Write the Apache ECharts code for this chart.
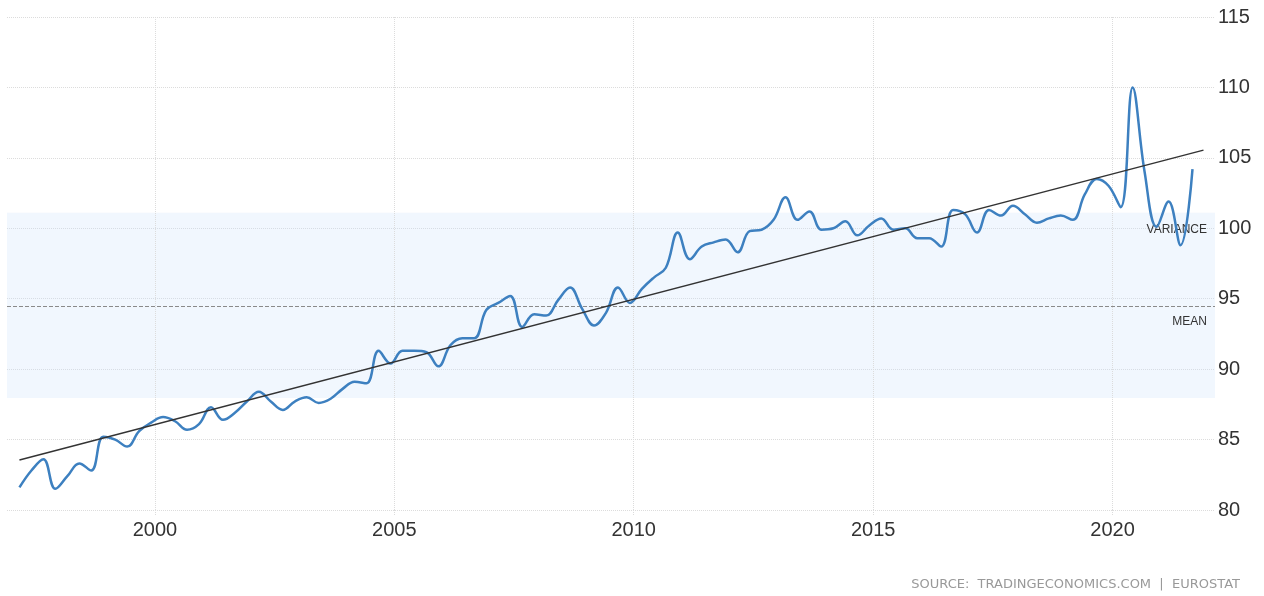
<!DOCTYPE html>
<html>
<head>
<meta charset="utf-8">
<title>Index</title>
<script src="https://cdn.jsdelivr.net/npm/echarts@6/dist/echarts.min.js"></script>
<style>
html, body { margin: 0; padding: 0; background: #fff; }
#main { width: 1264px; height: 596px; }
</style>
</head>
<body>
<div id="main"></div>
<script>
// quarterly values, 1997 Q1 .. 2021 Q3
var values = [
    81.6, 82.8, 83.6, 81.5, 82.4, 83.3, 82.8, 85.2, 85.0, 84.5,
    85.6, 86.2, 86.6, 86.3, 85.7, 86.1, 87.3, 86.4, 86.9, 87.7,
    88.4, 87.7, 87.1, 87.7, 88.0, 87.6, 87.9, 88.6, 89.1, 89.0,
    91.3, 90.4, 91.3, 91.3, 91.2, 90.2, 91.7, 92.2, 92.2, 94.2,
    94.7, 95.2, 93.0, 93.9, 93.8, 94.9, 95.8, 94.3, 93.1, 94.0,
    95.8, 94.7, 95.7, 96.5, 97.2, 99.7, 97.8, 98.7, 99.0, 99.2,
    98.3, 99.8, 99.9, 100.6, 102.2, 100.6, 101.2, 99.9, 100.0, 100.5,
    99.5, 100.2, 100.7, 99.9, 100.0, 99.3, 99.3, 98.7, 101.3, 101.0,
    99.7, 101.3, 100.9, 101.6, 101.0, 100.4, 100.7, 100.9, 100.6, 102.4,
    103.5, 103.0, 101.5, 110.0, 104.0, 100.1, 101.9, 98.8, 104.2
];
var firstQuarter = 1997.17;   // decimal year of the first point
var yearTicks = [2000, 2005, 2010, 2015, 2020];
var meanValue = 94.48;
var varianceBand = [87.95, 101.1];
var trendEnds = [[1997.17, 83.55], [2021.9, 105.55]];

var points = values.map(function (v, i) {
    return [firstQuarter + i * 0.25, v];
});

var font = '"Liberation Sans", Arial, sans-serif';
var gridColor = '#dcdcdc';

var myChart = echarts.init(document.getElementById('main'));
myChart.setOption({
    animation: false,
    grid: { left: 7, right: 49, top: 17, bottom: 86 },
    xAxis: {
        type: 'value',
        min: 1996.91,
        max: 2022.14,
        axisLine: { show: false },
        splitLine: { show: false },
        axisTick: {
            show: true,
            customValues: yearTicks,
            length: 5,
            lineStyle: { color: gridColor, type: 'dotted' }
        },
        axisLabel: {
            customValues: yearTicks,
            formatter: function (v) { return String(v); },
            fontSize: 20,
            fontFamily: font,
            color: '#333',
            margin: 10
        }
    },
    yAxis: {
        type: 'value',
        position: 'right',
        min: 80,
        max: 115,
        interval: 5,
        axisLine: { show: false },
        axisTick: { show: false },
        splitLine: { lineStyle: { color: gridColor, type: 'dotted' } },
        axisLabel: {
            fontSize: 20,
            fontFamily: font,
            color: '#333',
            margin: 3
        }
    },
    series: [
        {
            // vertical year grid lines only
            name: 'years',
            type: 'line',
            data: [],
            z: 1,
            markLine: {
                z: 1,
                silent: true,
                symbol: 'none',
                label: { show: false },
                lineStyle: { color: gridColor, type: 'dotted', width: 1 },
                data: yearTicks.map(function (y) { return { xAxis: y }; })
            }
        },
        {
            name: 'index',
            type: 'line',
            data: points,
            smooth: 0.4,
            showSymbol: false,
            z: 3,
            lineStyle: { color: '#3d80c0', width: 2.5 },
            markArea: {
                silent: true,
                itemStyle: { color: 'rgba(205,228,250,0.28)' },
                label: {
                    show: true,
                    position: 'insideTopRight',
                    distance: 8,
                    offset: [0, 3],
                    formatter: 'VARIANCE',
                    fontSize: 12,
                    fontFamily: font,
                    color: '#333'
                },
                data: [[
                    { yAxis: varianceBand[1] },
                    { yAxis: varianceBand[0] }
                ]]
            },
            markLine: {
                z: 2,
                silent: true,
                symbol: 'none',
                lineStyle: { color: '#8a8a8a', type: [4, 2], width: 1 },
                label: {
                    show: true,
                    position: 'insideEndBottom',
                    distance: [8, 10],
                    formatter: 'MEAN',
                    fontSize: 12,
                    fontFamily: font,
                    color: '#333'
                },
                data: [{ yAxis: meanValue }]
            }
        },
        {
            name: 'trend',
            type: 'line',
            data: trendEnds,
            showSymbol: false,
            z: 4,
            lineStyle: { color: '#333', width: 1.5 }
        }
    ],
    graphic: [{
        type: 'text',
        right: 24,
        top: 578,
        style: {
            text: 'SOURCE:  TRADINGECONOMICS.COM  |  EUROSTAT',
            font: '13px "DejaVu Sans", sans-serif',
            fill: '#999'
        }
    }]
});
</script>
</body>
</html>
